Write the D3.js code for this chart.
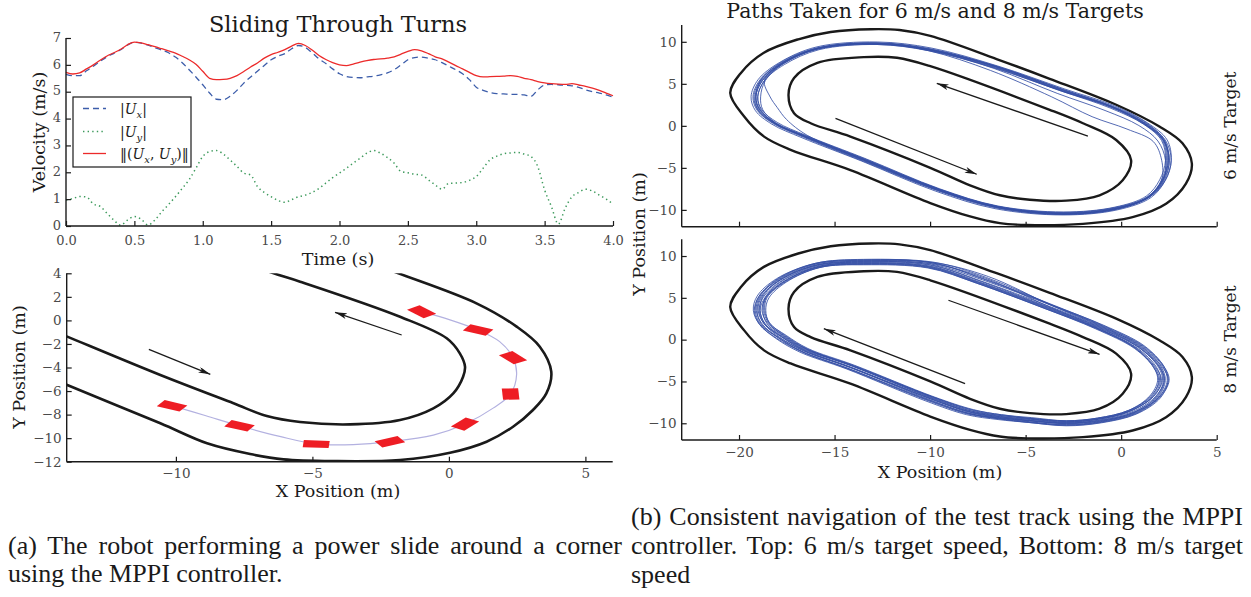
<!DOCTYPE html>
<html><head><meta charset="utf-8">
<script src="https://cdn.jsdelivr.net/npm/d3@7"></script>
<style>body{margin:0;background:#fff;}svg{display:block;}</style>
</head><body>
<svg id="fig" width="1251" height="597"></svg>
<script>
// ---------------- DATA ----------------
const velTime = [0.00,0.05,0.10,0.15,0.20,0.25,0.30,0.35,0.40,0.45,0.50,0.55,0.60,0.65,0.70,0.75,0.80,0.85,0.90,0.95,
 1.00,1.05,1.10,1.15,1.20,1.25,1.30,1.35,1.40,1.45,1.50,1.55,1.60,1.65,1.70,1.75,1.80,1.85,1.90,1.95,
 2.00,2.05,2.10,2.15,2.20,2.25,2.30,2.35,2.40,2.45,2.50,2.55,2.60,2.65,2.70,2.75,2.80,2.85,2.90,2.95,
 3.00,3.05,3.10,3.15,3.20,3.25,3.30,3.35,3.40,3.45,3.50,3.55,3.60,3.65,3.70,3.75,3.80,3.85,3.90,3.95,4.00];
const velNorm = [5.72,5.66,5.70,5.85,6.00,6.17,6.33,6.45,6.58,6.75,6.85,6.82,6.75,6.68,6.60,6.52,6.44,6.32,6.19,6.02,
 5.76,5.50,5.45,5.46,5.50,5.60,5.75,5.92,6.07,6.25,6.38,6.47,6.57,6.70,6.80,6.72,6.55,6.35,6.20,6.08,
 6.00,5.97,6.03,6.10,6.16,6.20,6.22,6.25,6.30,6.40,6.50,6.57,6.52,6.42,6.30,6.22,6.10,5.97,5.85,5.72,
 5.60,5.55,5.56,5.57,5.58,5.60,5.57,5.50,5.45,5.38,5.33,5.30,5.28,5.27,5.30,5.25,5.20,5.13,5.05,4.95,4.85];
const velUx = [5.65,5.60,5.60,5.78,5.95,6.13,6.30,6.43,6.56,6.74,6.84,6.81,6.73,6.64,6.55,6.45,6.29,6.08,5.82,5.55,
 5.26,4.95,4.72,4.70,4.83,5.05,5.32,5.55,5.76,5.98,6.19,6.32,6.42,6.60,6.72,6.65,6.45,6.22,6.05,5.85,
 5.67,5.57,5.53,5.52,5.55,5.58,5.63,5.70,5.82,6.00,6.19,6.27,6.29,6.25,6.19,6.08,5.95,5.82,5.67,5.45,
 5.17,5.05,4.97,4.93,4.92,4.90,4.90,4.88,4.83,5.07,5.25,5.27,5.26,5.24,5.22,5.16,5.07,5.00,4.95,4.88,4.80];
const velUy = [0.97,1.02,1.10,1.08,0.82,0.73,0.47,0.22,0.03,0.22,0.35,0.25,0.04,0.22,0.53,0.80,1.09,1.40,1.72,2.15,
 2.59,2.77,2.81,2.68,2.46,2.22,1.97,1.90,1.47,1.25,1.09,0.95,0.88,0.98,1.09,1.15,1.25,1.40,1.60,1.80,
 1.97,2.15,2.34,2.52,2.71,2.81,2.71,2.55,2.34,2.03,1.98,1.93,1.90,1.72,1.53,1.37,1.59,1.60,1.62,1.70,
 1.84,2.15,2.46,2.60,2.69,2.72,2.74,2.68,2.59,2.21,1.34,0.72,0.07,0.66,1.09,1.25,1.37,1.30,1.15,1.00,0.82];
const velTicksX = [0,0.5,1,1.5,2,2.5,3,3.5,4];
const velTicksY = [0,1,2,3,4,5,6,7];

// power-slide panel
const slideOuter = [[-3.0,5.0],[-1.85,4.0],[1.01,1.45],[2.48,-0.53],[3.33,-2.23],[3.75,-4.36],[3.57,-6.2],[3.08,-7.61],
 [2.35,-9.03],[1.38,-10.3],[0.04,-11.24],[-1.79,-11.86],[-4.23,-11.95],[-6.06,-11.8],[-7.28,-11.35],[-8.86,-10.44],
 [-10.57,-8.74],[-13.98,-5.49],[-15.0,-4.5]];
const slideInner = [[-7.5,4.9],[-6.42,4.0],[-5.45,3.29],[-1.79,0.31],[-0.08,-1.52],[0.4,-2.8],[0.59,-3.93],[0.52,-4.78],
 [0.16,-6.2],[-0.57,-7.47],[-1.79,-8.46],[-3.62,-8.83],[-5.45,-8.63],[-6.67,-8.12],[-7.89,-7.04],[-10.57,-4.64],
 [-13.98,-1.38],[-15.0,-0.4]];
const slidePath = [[-10.14,-7.25],[-8.9,-8.1],[-7.67,-8.95],[-6.2,-9.85],[-4.86,-10.5],[-3.5,-10.55],[-2.16,-10.3],
 [-0.57,-9.74],[0.59,-8.8],[1.62,-7.45],[2.26,-6.25],[2.48,-4.6],[2.35,-3.17],[1.86,-1.8],[1.07,-0.82],[0.04,0.05],[-1.0,0.74]];
const slideCarX = [-10.14,-7.67,-4.86,-2.16,0.59,2.26,2.35,1.07,-1.0];
const slideCarY = [-7.25,-8.95,-10.5,-10.3,-8.8,-6.25,-3.17,-0.82,0.74];
const slideCarHeading = [-29,-27,-4,28,55,93,125,152,130];
const slideArrows = [[-10.99,-2.46,-8.74,-4.58],[-1.73,-1.24,-4.17,0.69]];
const slideTicksX = [-10,-5,0,5];
const slideTicksY = [4,2,0,-2,-4,-6,-8,-10,-12];

// track panels
const trackOuter = [[-13.1,11.5],[-15.2,11.17],[-16.9,10.3],[-18.7,8.7],[-19.9,6.3],[-20.46,3.9],[-19.73,1.11],
 [-18.69,-1.28],[-17.3,-2.85],[-14.17,-5.27],[-9.99,-9.19],[-7.91,-10.78],[-6.35,-11.58],[-4.95,-11.8],[-2.0,-11.66],
 [0.6,-10.86],[2.35,-9.27],[3.39,-6.87],[3.7,-4.48],[3.21,-2.08],[2.0,-0.08],[-0.26,2.51],[-3.74,5.6],[-6.52,7.95],
 [-9.99,10.7],[-11.6,11.4]];
const trackInner = [[-13.47,8.18],[-15.9,7.5],[-17.12,5.7],[-17.41,3.71],[-17.12,1.51],[-16.25,0.31],[-14.17,-1.28],
 [-9.99,-4.99],[-7.91,-7.07],[-6.35,-8.26],[-4.78,-8.79],[-2.87,-8.9],[-1.13,-8.26],[0.08,-6.47],[0.52,-4.07],
 [-0.26,-1.68],[-2.0,0.31],[-3.74,1.91],[-9.99,7.1],[-11.73,8.1]];
const path6Base = [[-12.77,9.83],[-15.9,9.24],[-17.82,7.45],[-18.86,5.45],[-19.17,3.46],[-18.95,1.87],[-18.16,0.29],
 [-16.6,-1.31],[-13.47,-4.09],[-9.6,-7.6],[-6.52,-9.67],[-3.04,-10.45],[-0.26,-9.86],[1.48,-8.47],[2.26,-6.48],
 [2.52,-4.09],[2.26,-1.71],[1.3,0.29],[-0.44,2.27],[-3.04,4.26],[-6.52,7.04],[-9.99,9.12]];
// lateral offsets (m, + = towards inner boundary) of each recorded lap at the base stations
const laps6 = [
 [0.00,0.05,0.10,0.05,0.00,-0.05,0.00,0.05,0.00,-0.05,0.00,0.05,0.00,0.05,0.10,0.05,0.00,0.05,0.00,-0.05,0.00,0.05],
 [0.15,0.20,0.25,0.20,0.15,0.15,0.20,0.20,0.20,0.15,0.15,0.20,0.20,0.20,0.25,0.20,0.15,0.15,0.10,0.15,0.15,0.15],
 [-0.15,-0.15,-0.10,-0.15,-0.20,-0.20,-0.15,-0.15,-0.15,-0.20,-0.20,-0.15,-0.15,-0.10,-0.05,-0.10,-0.15,-0.10,-0.15,-0.15,-0.10,-0.15],
 [0.05,0.05,0.05,0.20,0.80,1.00,0.80,0.25,0.05,0.00,0.00,-0.05,0.00,0.05,0.05,0.00,0.05,0.10,0.05,0.00,0.00,0.05],
 [0.00,0.00,0.05,0.10,0.05,0.00,0.05,0.10,0.10,0.05,-0.05,-0.10,-0.05,0.05,0.15,0.40,0.60,1.20,1.60,1.00,0.55,0.20],
 [0.15,0.10,0.05,0.00,-0.05,-0.05,0.00,0.10,0.10,0.10,0.10,0.05,0.05,0.10,0.10,0.05,0.05,0.15,0.20,0.15,0.20,0.20],
 [-0.05,0.00,0.00,-0.05,-0.10,-0.10,-0.05,-0.05,-0.10,-0.10,-0.10,-0.05,-0.05,0.00,-0.05,-0.10,-0.05,0.00,0.00,0.05,0.00,-0.05],
 [0.05,0.05,0.15,0.25,0.30,0.20,0.10,0.05,0.00,0.05,0.05,0.00,-0.05,0.00,0.05,0.20,0.35,0.45,0.60,0.50,0.25,0.10],
 [0.00,-0.05,-0.05,0.00,0.05,0.05,0.05,0.00,-0.05,-0.05,0.00,0.00,0.05,0.00,0.00,0.00,0.00,-0.05,-0.05,-0.05,-0.05,0.00],
 [0.10,0.05,0.10,0.20,0.15,0.10,0.05,0.05,0.05,0.05,0.05,0.10,0.10,0.05,0.10,0.10,0.05,0.05,0.10,0.10,0.10,0.10],
 [0.05,0.10,0.15,0.10,0.05,0.05,0.10,0.15,0.15,0.10,0.10,0.15,0.15,0.10,0.15,0.15,0.10,0.10,0.05,0.10,0.05,0.05]
];
const path8Base = [[-13.47,9.3],[-15.9,8.9],[-17.8,7.1],[-18.77,5.1],[-18.95,3.5],[-18.69,1.9],[-17.82,0.31],
 [-16.6,-1.28],[-14.17,-3.28],[-9.99,-7.07],[-7.91,-8.67],[-6.35,-9.27],[-4.78,-9.66],[-2.87,-10.0],[-1.13,-9.66],
 [0.6,-8.67],[1.82,-6.87],[2.26,-4.87],[2.0,-3.28],[0.95,-0.89],[-1.13,1.51],[-3.74,3.9],[-7.39,7.0],[-9.99,8.9]];
const laps8 = [
 [0.00,0.05,0.05,0.05,0.00,0.00,0.05,0.05,0.00,0.00,0.05,0.05,0.00,0.00,0.05,0.05,0.05,0.00,0.00,0.00,0.00,0.05,0.00,0.00],
 [0.20,0.20,0.25,0.20,0.15,0.20,0.25,0.20,0.15,0.15,0.15,0.20,0.20,0.20,0.15,0.15,0.20,0.20,0.15,0.15,0.20,0.20,0.20,0.20],
 [-0.20,-0.15,-0.15,-0.20,-0.20,-0.20,-0.15,-0.15,-0.20,-0.20,-0.20,-0.15,-0.15,-0.20,-0.20,-0.20,-0.15,-0.15,-0.20,-0.20,-0.20,-0.25,-0.55,-0.40],
 [0.10,0.15,0.20,0.15,0.05,0.05,0.10,0.10,0.15,0.10,0.05,0.05,0.10,0.10,0.15,0.20,0.15,0.10,0.05,0.05,0.10,0.10,0.10,0.10],
 [-0.10,-0.05,-0.05,-0.10,-0.10,-0.15,-0.10,-0.05,-0.05,-0.10,-0.15,-0.10,-0.05,-0.05,-0.10,-0.15,-0.10,-0.05,-0.10,-0.15,-0.10,-0.20,-0.70,-0.35],
 [0.30,0.30,0.30,0.25,0.30,0.30,0.30,0.25,0.20,0.25,0.30,0.30,0.25,0.30,0.30,0.30,0.25,0.30,0.30,0.25,0.25,0.30,0.30,0.30],
 [-0.30,-0.25,-0.30,-0.30,-0.30,-0.25,-0.30,-0.30,-0.30,-0.35,-0.35,-0.30,-0.25,-0.30,-0.30,-0.30,-0.25,-0.20,-0.25,-0.30,-0.30,-0.25,-0.30,-0.30],
 [0.05,0.00,-0.05,0.00,0.05,0.05,0.05,0.00,0.00,0.05,0.00,-0.05,0.00,0.05,0.00,-0.05,0.00,0.05,0.00,0.05,0.05,0.00,-0.45,-0.20],
 [0.15,0.15,0.10,0.15,0.20,0.15,0.15,0.15,0.20,0.20,0.15,0.10,0.15,0.15,0.20,0.20,0.15,0.15,0.20,0.20,0.15,0.15,0.15,0.15],
 [-0.15,-0.20,-0.20,-0.15,-0.15,-0.10,-0.15,-0.20,-0.20,-0.15,-0.15,-0.20,-0.20,-0.15,-0.15,-0.10,-0.15,-0.20,-0.15,-0.10,-0.15,-0.20,-0.20,-0.15],
 [0.35,0.30,0.35,0.35,0.35,0.30,0.35,0.30,0.30,0.30,0.35,0.30,0.35,0.30,0.30,0.30,0.35,0.35,0.30,0.30,0.30,0.30,0.30,0.35],
 [-0.05,-0.05,-0.10,-0.05,-0.05,0.00,-0.05,-0.05,-0.05,0.00,-0.05,-0.05,-0.05,0.00,-0.05,-0.05,-0.05,0.00,-0.05,-0.05,-0.05,-0.05,-0.05,-0.05],
 [0.25,0.25,0.20,0.20,0.25,0.25,0.20,0.20,0.25,0.25,0.25,0.20,0.25,0.25,0.25,0.25,0.30,0.25,0.25,0.25,0.20,0.25,0.25,0.25],
 [-0.25,-0.25,-0.25,-0.20,-0.25,-0.25,-0.25,-0.20,-0.25,-0.25,-0.25,-0.20,-0.25,-0.25,-0.25,-0.25,-0.20,-0.25,-0.25,-0.25,-0.25,-0.30,-0.35,-0.30]
];
const arrows6 = [[-14.95,0.88,-7.56,-5.76],[-1.74,-1.23,-9.65,5.06]];
const arrows8 = [[-9.04,4.71,-1.13,-1.76],[-8.17,-5.27,-15.56,1.31]];
const trackTicksX = [-20,-15,-10,-5,0,5];
const trackTicksY = [-10,-5,0,5,10];

// ---------------- DRAWING ----------------
const svg = d3.select('#fig');
const SERIF = "'DejaVu Serif', serif";
const TIMES = "'Liberation Serif', 'Times New Roman', serif";
const TICKC = '#4a4a4a';
const INK = '#1a1a1a';

const defs = svg.append('defs');
defs.append('marker').attr('id','ah').attr('viewBox','0 0 12 6').attr('refX',12).attr('refY',3)
  .attr('markerWidth',12).attr('markerHeight',6).attr('markerUnits','userSpaceOnUse').attr('orient','auto')
  .append('path').attr('d','M0,0 L12,3 L0,6 L3,3 Z').attr('fill',INK);

function clip(id, x0, x1, y0, y1){
  defs.append('clipPath').attr('id',id).append('rect').attr('x',x0).attr('y',y1).attr('width',x1-x0).attr('height',y0-y1);
}
function spines(g, x0, x1, y0, y1){
  g.append('line').attr('x1',x0).attr('x2',x0).attr('y1',y0).attr('y2',y1).attr('stroke',INK).attr('stroke-width',1.4);
  g.append('line').attr('x1',x0).attr('x2',x1).attr('y1',y0).attr('y2',y0).attr('stroke',INK).attr('stroke-width',1.4);
}
function styleAxis(ax, size){
  ax.select('.domain').remove();
  ax.selectAll('.tick line').attr('stroke',INK).attr('stroke-width',1.2);
  ax.selectAll('.tick text').attr('fill',TICKC).attr('font-family',SERIF).attr('font-size',size);
}
function leftAxis(scale, ticks, fmt, xPos, size=13.5, dy='0.32em'){
  const ax = svg.append('g').attr('transform',`translate(${xPos},0)`)
    .call(d3.axisLeft(scale).tickValues(ticks).tickFormat(fmt).tickSizeInner(-5).tickSizeOuter(0).tickPadding(5));
  styleAxis(ax, size);
  ax.selectAll('.tick text').attr('dy',dy);
}
function bottomAxis(scale, ticks, fmt, yPos, labels=true, pad=7, size=13.5){
  const ax = svg.append('g').attr('transform',`translate(0,${yPos})`)
    .call(d3.axisBottom(scale).tickValues(ticks).tickFormat(labels ? fmt : () => '').tickSizeInner(-5).tickSizeOuter(0).tickPadding(pad));
  styleAxis(ax, size);
}
function label(txt, x, y, size, rot=0, anchor='middle', font=SERIF){
  return svg.append('text').attr('transform',`translate(${x},${y}) rotate(${rot})`).attr('text-anchor',anchor)
    .attr('font-family',font).attr('font-size',size).attr('fill',INK).text(txt);
}
function arrow(g, sx, sy, a){
  g.append('line').attr('x1',sx(a[0])).attr('y1',sy(a[1])).attr('x2',sx(a[2])).attr('y2',sy(a[3]))
    .attr('stroke',INK).attr('stroke-width',1.3).attr('marker-end','url(#ah)');
}

// ===== Panel (a) top: velocities =====
const vx = d3.scaleLinear().domain([0,4]).range([66,613]);
const vy = d3.scaleLinear().domain([0,7]).range([226,38]);
const vline = vals => d3.line().x((d,i)=>vx(velTime[i])).y(d=>vy(d)).curve(d3.curveMonotoneX)(vals);
const gv = svg.append('g');
gv.append('path').attr('d',vline(velUx)).attr('fill','none').attr('stroke','#3c5daa').attr('stroke-width',1.3).attr('stroke-dasharray','6,4');
gv.append('path').attr('d',vline(velUy)).attr('fill','none').attr('stroke','#3d9a5c').attr('stroke-width',1.5).attr('stroke-dasharray','1.4,3.2');
gv.append('path').attr('d',vline(velNorm)).attr('fill','none').attr('stroke','#ec2a2a').attr('stroke-width',1.3);
spines(svg, 66, 613, 226, 38);
leftAxis(vy, velTicksY, d3.format('d'), 66, 13, '0.25em');
bottomAxis(vx, velTicksX, d3.format('.1f'), 226, true, 10, 13);
label('Sliding Through Turns', 338, 32, 22.5);
label('Velocity (m/s)', 45, 132, 17.5, -90);
label('Time (s)', 338, 265, 17.5);

// legend
const lg = svg.append('g');
lg.append('rect').attr('x',73).attr('y',97).attr('width',118).attr('height',70).attr('fill','#fff').attr('stroke',INK).attr('stroke-width',1.2);
const legendItems = [
  {y:108.5, color:'#3c5daa', dash:'6,4', w:1.3, parts:[['|'],['U','i'],['x','s'],['|']]},
  {y:131.5, color:'#3d9a5c', dash:'1.4,3.2', w:1.5, parts:[['|'],['U','i'],['y','s'],['|']]},
  {y:153.5, color:'#ec2a2a', dash:null, w:1.3, parts:[['‖('],['U','i'],['x','s'],[', '],['U','i'],['y','s'],[')‖']]}
];
legendItems.forEach(it=>{
  lg.append('line').attr('x1',83).attr('x2',106).attr('y1',it.y).attr('y2',it.y).attr('stroke',it.color)
    .attr('stroke-width',it.w).attr('stroke-dasharray',it.dash);
  const t = lg.append('text').attr('x',120).attr('y',it.y+5).attr('font-family',SERIF).attr('font-size',14).attr('fill',INK);
  let sub = false;
  it.parts.forEach(p=>{
    const s = t.append('tspan').text(p[0]);
    if (p[1]==='i') s.attr('font-style','italic');
    if (p[1]==='s'){ s.attr('font-style','italic').attr('font-size',10).attr('dy',4); sub = true; }
    else if (sub){ s.attr('dy',-4); sub = false; }
  });
});

// ===== Panel (a) bottom: power slide =====
const sx = d3.scaleLinear().domain([-14,6]).range([66.7,612.7]);
const sy = d3.scaleLinear().domain([-12,4]).range([461.7,273.3]);
clip('clipS', 66.7, 612.7, 461.7, 273.3);
const gs = svg.append('g').attr('clip-path','url(#clipS)');
const sline = d3.line().x(d=>sx(d[0])).y(d=>sy(d[1])).curve(d3.curveCatmullRom.alpha(0.5));
[slideOuter, slideInner].forEach(b=>gs.append('path').attr('d',sline(b)).attr('fill','none').attr('stroke',INK).attr('stroke-width',2.6));
gs.append('path').attr('d',sline(slidePath)).attr('fill','none').attr('stroke','#b3b1e0').attr('stroke-width',1.2);
const carL = 0.95, carW = 0.6;
slideCarX.forEach((cx,i)=>{
  const h = slideCarHeading[i]*Math.PI/180, c = Math.cos(h), s = Math.sin(h);
  const corners = [[1,1],[1,-1],[-1,-1],[-1,1]].map(([a,b])=>{
    const dx = a*carL/2, dy = b*carW/2;
    return [sx(cx + dx*c - dy*s), sy(slideCarY[i] + dx*s + dy*c)];
  });
  gs.append('polygon').attr('points',corners.map(p=>p.join(',')).join(' ')).attr('fill','#ee1d24');
});
slideArrows.forEach(a=>arrow(svg, sx, sy, a));
spines(svg, 66.7, 612.7, 461.7, 273.3);
leftAxis(sy, slideTicksY, d3.format('d'), 66.7);
bottomAxis(sx, slideTicksX, d3.format('d'), 461.7);
label('Y Position (m)', 25, 367, 17.5, -90);
label('X Position (m)', 338, 497, 17.5);

// ===== Panel (b): tracks =====
const tx = d3.scaleLinear().domain([-23,5]).range([681.7,1216.7]);
const panelsB = [
  {y: d3.scaleLinear().domain([-12,12]).range([226.7,25]), base:path6Base, laps:laps6, arrows:arrows6, labels:false, side:'6 m/s Target', id:'clipB1'},
  {y: d3.scaleLinear().domain([-12,12]).range([440,239.3]), base:path8Base, laps:laps8, arrows:arrows8, labels:true, side:'8 m/s Target', id:'clipB2'}
];
function lapPoints(base, offs){
  const n = base.length;
  return base.map((p,i)=>{
    const a = base[(i-1+n)%n], b = base[(i+1)%n];
    let dx = b[0]-a[0], dy = b[1]-a[1]; const L = Math.hypot(dx,dy); dx/=L; dy/=L;
    const o = offs[i] || 0;
    return [p[0] - dy*o, p[1] + dx*o];
  });
}
panelsB.forEach(P=>{
  const y0 = P.y.range()[0], y1 = P.y.range()[1];
  clip(P.id, 681.7, 1216.7, y0, y1);
  const g = svg.append('g').attr('clip-path',`url(#${P.id})`);
  const cl = d3.line().x(d=>tx(d[0])).y(d=>P.y(d[1])).curve(d3.curveCatmullRomClosed.alpha(0.5));
  [trackOuter, trackInner].forEach(b=>g.append('path').attr('d',cl(b)).attr('fill','none').attr('stroke',INK).attr('stroke-width',2.4));
  P.laps.forEach(offs=>{
    g.append('path').attr('d',cl(lapPoints(P.base, offs))).attr('fill','none').attr('stroke','#3650a6').attr('stroke-width',0.9).attr('stroke-opacity',0.95);
  });
  P.arrows.forEach(a=>arrow(svg, tx, P.y, a));
  spines(svg, 681.7, 1216.7, y0, y1);
  leftAxis(P.y, trackTicksY, d3.format('d'), 681.7);
  bottomAxis(tx, trackTicksX, d3.format('d'), y0, P.labels);
  label(P.side, 1236, (y0+y1)/2, 17, -90);
});
label('Paths Taken for 6 m/s and 8 m/s Targets', 935, 17.5, 20.5);
label('Y Position (m)', 645, 234, 17.5, -90);
label('X Position (m)', 940, 478, 17.5);

// ===== Captions =====
function caption(txt, x, y, target){
  const t = label(txt, x, y, 26, 0, 'start', TIMES);
  if (target){
    const n = (txt.match(/ /g)||[]).length;
    const w = t.node().getComputedTextLength();
    if (n>0) t.style('word-spacing', ((target-w)/n)+'px');
  }
}
caption('(a) The robot performing a power slide around a corner', 8, 554, 614);
caption('using the MPPI controller.', 8, 582, 0);
caption('(b) Consistent navigation of the test track using the MPPI', 631, 525, 612);
caption('controller. Top: 6 m/s target speed, Bottom: 8 m/s target', 631, 554, 612);
caption('speed', 631, 583, 0);
</script>
</body></html>
